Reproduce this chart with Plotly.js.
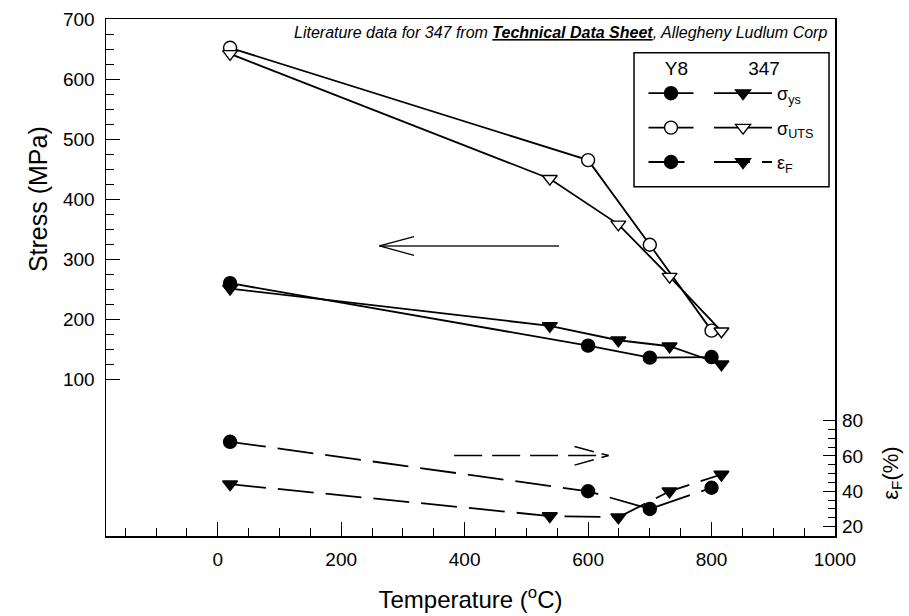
<!DOCTYPE html>
<html>
<head>
<meta charset="utf-8">
<script src="https://cdn.plot.ly/plotly-3.0.1.min.js"></script>
<style>html,body{margin:0;padding:0;background:#fff;}#chart{width:909px;height:616px;}</style>
</head>
<body>
<div id="chart"></div>
<script>
// ---- data ----
const tempY8  = [20, 600, 700, 800];
const temp347 = [20, 538, 649, 732, 816];
const ysY8    = [260, 156, 136, 137];
const ys347   = [251, 189, 165, 155, 125];
const utsY8   = [652, 465, 324, 181];
const uts347  = [642, 434, 358, 271, 180];
const efY8    = [68, 40, 30, 42];
const ef347   = [44, 26, 25.3, 40, 49.5];
const xTicks  = [0, 200, 400, 600, 800, 1000];
const yTicks  = [100, 200, 300, 400, 500, 600, 700];
const y2Ticks = [20, 40, 60, 80];

function minorBetween(major, step) {
  const out = [];
  for (let i = 0; i < major.length - 1; i++) {
    for (let v = major[i] + step; v < major[i + 1] - 1e-9; v += step) out.push(v);
  }
  return out;
}

const LW = 1.8, MS = 13, DASH = '36px,12px';
const black = '#000';

function tr(x, y, sym, fill, dash, axis, legend, name, group) {
  return {
    x: x, y: y, type: 'scatter', mode: 'lines+markers', yaxis: axis,
    line: {color: black, width: LW, dash: dash},
    marker: {symbol: sym, size: MS, color: fill, line: {color: black, width: 1.4}},
    legend: legend, name: name, legendgroup: group, showlegend: true,
    hoverinfo: 'x+y'
  };
}

const traces = [
  tr(tempY8, ysY8, 'circle', black, 'solid', 'y', 'legend', ' ', 'a1'),
  tr(tempY8, utsY8, 'circle', '#fff', 'solid', 'y', 'legend', ' ', 'a2'),
  tr(tempY8, efY8, 'circle', black, DASH, 'y2', 'legend', ' ', 'a3'),
  tr(temp347, ys347, 'triangle-down', black, 'solid', 'y', 'legend2', '\u03c3<sub>ys</sub>', 'b1'),
  tr(temp347, uts347, 'triangle-down', '#fff', 'solid', 'y', 'legend2', '\u03c3<sub>UTS</sub>', 'b2'),
  tr(temp347, ef347, 'triangle-down', black, DASH, 'y2', 'legend2', '\u03b5<sub>F</sub>', 'b3')
];

const fontFam = 'Liberation Sans, Arial, Helvetica, sans-serif';

const layout = {
  width: 909, height: 616,
  margin: {l: 106, r: 74, t: 19, b: 80},
  paper_bgcolor: '#fff', plot_bgcolor: '#fff',
  font: {family: fontFam, color: black, size: 19},
  showlegend: true,
  xaxis: {
    range: [-181, 1000], showline: true, linecolor: black, linewidth: 1.5, mirror: true,
    showgrid: false, zeroline: false,
    tickmode: 'array', tickvals: xTicks, ticks: 'inside', ticklen: 14, tickwidth: 1, tickcolor: black,
    minor: {dtick: 50, tick0: 0, ticks: 'inside', ticklen: 8, tickwidth: 1, tickcolor: black},
    tickfont: {size: 19}, ticklabelstandoff: 6,
    title: {text: 'Temperature (<sup>o</sup>C)', font: {size: 24}, standoff: 22}
  },
  yaxis: {
    range: [-161, 700], showline: true, linecolor: black, linewidth: 1.5, mirror: true,
    showgrid: false, zeroline: false,
    tickmode: 'array', tickvals: yTicks, ticks: 'inside', ticklen: 14, tickwidth: 1, tickcolor: black,
    minor: {tickmode: 'array', tickvals: minorBetween(yTicks, 25), ticks: 'inside', ticklen: 8, tickwidth: 1, tickcolor: black},
    tickfont: {size: 19}, ticklabelstandoff: 6
  },
  yaxis2: {
    overlaying: 'y', side: 'right', range: [14.7, 307.2],
    showline: false, showgrid: false, zeroline: false,
    tickmode: 'array', tickvals: y2Ticks, ticks: 'inside', ticklen: 12, tickwidth: 1, tickcolor: black,
    minor: {tickmode: 'array', tickvals: minorBetween(y2Ticks, 5), ticks: 'inside', ticklen: 7, tickwidth: 1, tickcolor: black},
    tickfont: {size: 19}, ticklabelstandoff: 6
  },
  legend: {
    x: 0.7373, xanchor: 'left', y: 0.9395, yanchor: 'top',
    bgcolor: 'rgba(0,0,0,0)', borderwidth: 0, traceorder: 'grouped', tracegroupgap: 8,
    itemwidth: 45,
    font: {size: 18}, title: {text: 'Y8', font: {size: 19}, side: 'top center'}
  },
  legend2: {
    x: 0.8272, xanchor: 'left', y: 0.9395, yanchor: 'top',
    bgcolor: 'rgba(0,0,0,0)', borderwidth: 0, traceorder: 'grouped', tracegroupgap: 8,
    itemwidth: 58,
    font: {size: 18}, title: {text: '347', font: {size: 19}, side: 'top center'}
  },
  shapes: [
    // legend frame
    {type: 'rect', xref: 'paper', yref: 'paper', x0: 0.7243, x1: 0.9918, y0: 0.6756, y1: 0.9348,
     line: {color: black, width: 1.5}, fillcolor: 'rgba(0,0,0,0)'},
    // left-pointing arrow (stress axis)
    {type: 'line', xref: 'x', yref: 'y', x0: 553, y0: 322, x1: 262, y1: 322, line: {color: '#222', width: 1.5}},
    {type: 'line', xref: 'x', yref: 'y', x0: 318, y0: 337.5, x1: 262, y1: 322, line: {color: black, width: 1.3}},
    {type: 'line', xref: 'x', yref: 'y', x0: 318, y0: 306.5, x1: 262, y1: 322, line: {color: black, width: 1.3}},
    // right-pointing dashed arrow (strain axis)
    {type: 'line', xref: 'x', yref: 'y', x0: 383, y0: -27, x1: 633, y1: -27, line: {color: black, width: 1.5, dash: '28px,10px'}},
    {type: 'line', xref: 'x', yref: 'y', x0: 578, y0: -12, x1: 633, y1: -27, line: {color: black, width: 1.5, dash: '20px,8px'}},
    {type: 'line', xref: 'x', yref: 'y', x0: 578, y0: -43, x1: 633, y1: -27, line: {color: black, width: 1.5, dash: '20px,8px'}}
  ],
  annotations: [
    {xref: 'paper', yref: 'paper', x: 0.9918, y: 0.973, xanchor: 'right', yanchor: 'middle', showarrow: false,
     text: '<i>Literature data for 347 from <b><u>Technical Data Sheet</u></b>, Allegheny Ludlum Corp</i>',
     font: {size: 16}},
    {xref: 'paper', yref: 'y', x: -0.0933, y: 400, xanchor: 'center', yanchor: 'middle', showarrow: false,
     textangle: -90, text: 'Stress (MPa)', font: {size: 25}},
    {xref: 'paper', yref: 'y2', x: 1.077, y: 50, xanchor: 'center', yanchor: 'middle', showarrow: false,
     textangle: -90, text: '\u03b5<sub>F</sub>(%)', font: {size: 22}}
  ]
};

Plotly.newPlot('chart', traces, layout, {displayModeBar: false, staticPlot: true});
</script>
</body>
</html>
